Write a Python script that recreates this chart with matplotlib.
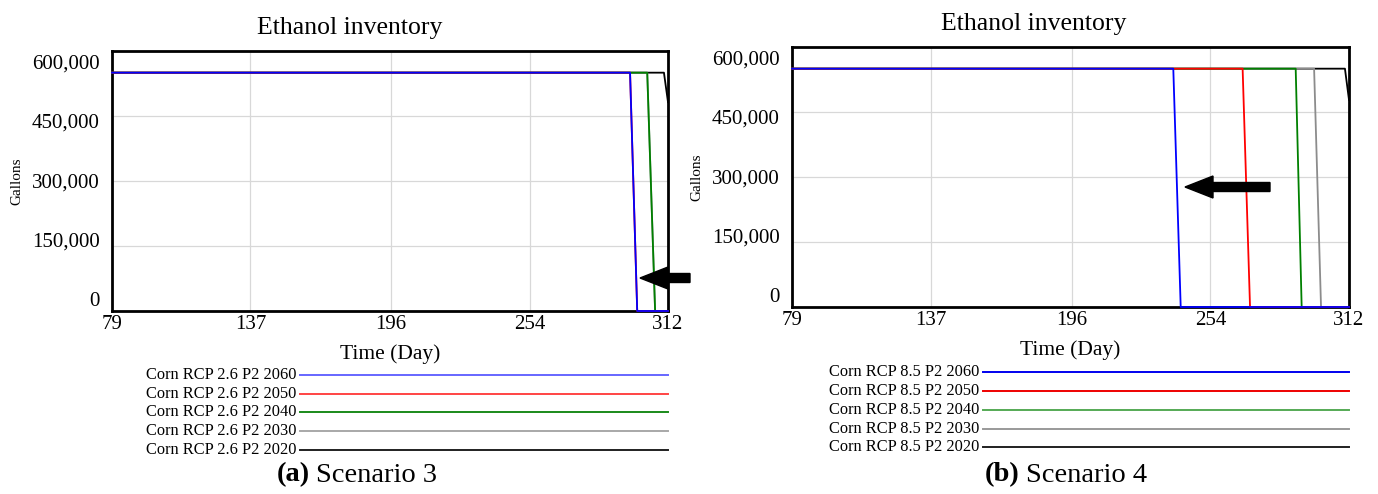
import matplotlib
matplotlib.use("Agg")
import matplotlib.pyplot as plt
from matplotlib.lines import Line2D
from matplotlib.patches import FancyArrow
from matplotlib.transforms import ScaledTranslation

plt.rcParams["font.family"] = ["Liberation Serif", "DejaVu Serif"]

# inventory breakpoints (day, gallons) per run
years = ["2060", "2050", "2040", "2030", "2020"]
colors = ["#0000ff", "#ff0000", "#008000", "#8c8c8c", "#000000"]
legend_colors_a = ["#6666ff", "#ff4444", "#1a8a1a", "#a8a8a8", "#202020"]
legend_colors_b = ["#0000ee", "#ee0000", "#55aa55", "#999999", "#202020"]

days_a = {
    "2060": [79, 296.1, 299.1, 312],
    "2050": [79, 296.1, 299.1, 312],
    "2040": [79, 303.3, 306.6, 312],
    "2030": [79, 303.3, 306.6, 312],
    "2020": [79, 310.3, 312],
}
gal_a = {
    "2060": [550000, 550000, 0, 0],
    "2050": [550000, 550000, 0, 0],
    "2040": [550000, 550000, 0, 0],
    "2030": [550000, 550000, 0, 0],
    "2020": [550000, 550000, 482000],
}
days_b = {
    "2060": [79, 238.5, 241.6, 312],
    "2050": [79, 267.5, 270.6, 312],
    "2040": [79, 289.7, 292.2, 312],
    "2030": [79, 297.4, 300.3, 312],
    "2020": [79, 310.3, 312],
}
gal_b = {
    "2060": [550000, 550000, 0, 0],
    "2050": [550000, 550000, 0, 0],
    "2040": [550000, 550000, 0, 0],
    "2030": [550000, 550000, 0, 0],
    "2020": [550000, 550000, 478000],
}

xticks = [79, 137, 196, 254, 312]
yticks = [0, 150000, 300000, 450000, 600000]
ylabels = ["0", "150,000", "300,000", "450,000", "600,000"]

W, H = 1378, 494
fig = plt.figure(figsize=(W / 100, H / 100), dpi=100)


def panel(rect, days, gal, rcp, legend_colors, lx0, lx1, ly, caption, cap_x,
          title_xy, arrow):
    ax = fig.add_axes([rect[0] / W, 1 - rect[3] / H, (rect[2] - rect[0]) / W,
                       (rect[3] - rect[1]) / H])
    for yr, c in zip(reversed(years), reversed(colors)):
        ax.plot(days[yr], gal[yr], color=c, lw=1.3, zorder=3, clip_on=False)
    ax.set_xlim(79, 312)
    ax.set_ylim(0, 600000)
    ax.set_xticks(xticks)
    ax.set_xticklabels([str(t) for t in xticks], fontsize=15)
    ax.set_yticks(yticks)
    ax.set_yticklabels(ylabels, fontsize=15)
    ax.tick_params(length=0, pad=9)
    ax.tick_params(axis="x", pad=3)
    # vensim-style label inset: top label pushed down, bottom pushed up
    offs = [12, 6, 0, -5, -11]
    for lab, dy in zip(ax.get_yticklabels(), offs):
        lab.set_transform(lab.get_transform() +
                          ScaledTranslation(0, dy / 100, fig.dpi_scale_trans))
    ax.grid(True, color="#d8d8d8", lw=0.9)
    for s in ax.spines.values():
        s.set_linewidth(2)
    fig.text(title_xy[0] / W, 1 - title_xy[1] / H, "Ethanol inventory",
             fontsize=18.5, ha="center", va="center")
    ax.set_xlabel("Time (Day)", fontsize=15.5, labelpad=7)
    ax.set_ylabel("Gallons", fontsize=11, labelpad=6)

    # legend rows
    for i, (yr, c) in enumerate(zip(years, legend_colors)):
        y = 1 - ly[i] / H
        fig.text((lx0 - 4) / W, y, f"Corn RCP {rcp} P2 {yr}", fontsize=11.8,
                 ha="right", va="center")
        fig.add_artist(Line2D([lx0 / W, lx1 / W], [y, y], color=c, lw=1.4,
                              transform=fig.transFigure))
    fig.text(cap_x / W, 1 - 475 / H, "(%s)" % caption[0], fontsize=20.5,
             fontweight="bold", ha="right", va="center")
    fig.text((cap_x + 6) / W, 1 - 475 / H, caption[1], fontsize=20.5,
             ha="left", va="center")

    # black arrow
    (x0, x1, ya) = arrow
    fig.add_artist(FancyArrow(
        x0 / W, 1 - ya / H, (x1 - x0) / W, 0, width=9 / H, head_width=22 / H,
        head_length=28 / W, length_includes_head=True, color="black",
        transform=fig.transFigure))
    return ax


panel((112, 51, 668, 311), days_a, gal_a, "2.6", legend_colors_a,
      300, 668, [375, 394, 412, 431, 450], ("a", "Scenario 3"), 310,
      (350, 28), (690, 640, 278))
panel((792, 47, 1349, 307), days_b, gal_b, "8.5", legend_colors_b,
      983, 1349, [372, 391, 410, 429, 447], ("b", "Scenario 4"), 1020,
      (1034, 24), (1270, 1185, 187))

fig.savefig("out.png", dpi=100)
